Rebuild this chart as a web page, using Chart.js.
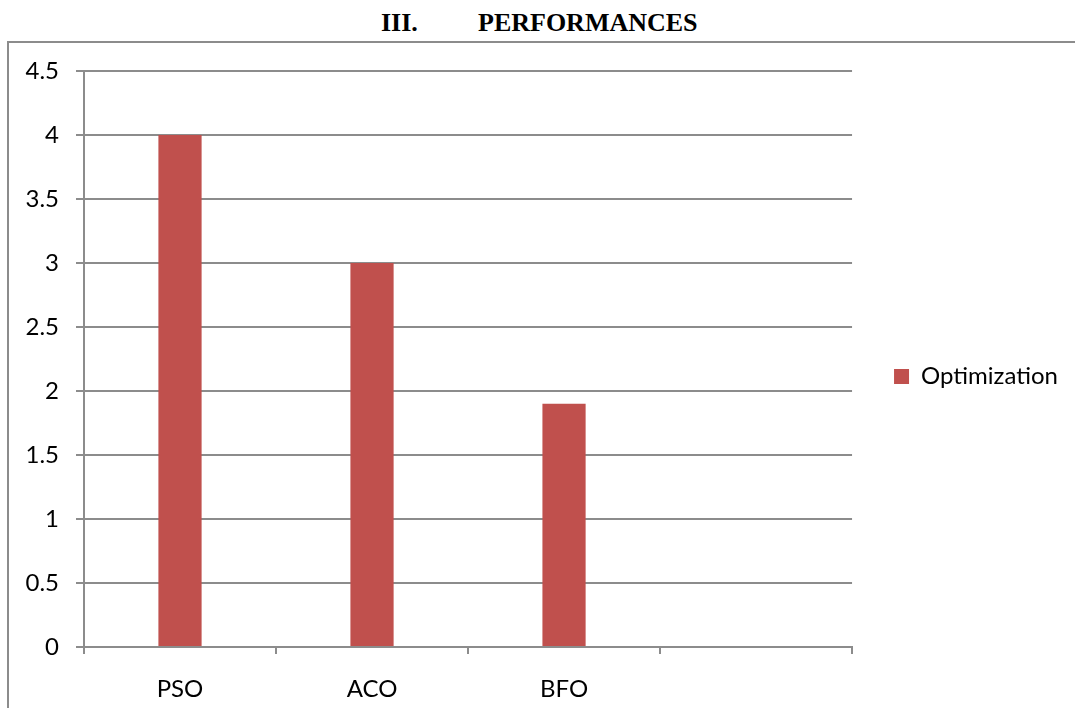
<!DOCTYPE html>
<html>
<head>
<meta charset="utf-8">
<script src="https://cdn.jsdelivr.net/npm/chart.js@4/dist/chart.umd.min.js"></script>
<style>
  html, body { margin: 0; padding: 0; background: #fff; }
  body { width: 1075px; height: 708px; position: relative; overflow: hidden; }
  .heading { position: absolute; top: 10px; font: bold 26px/26px "Liberation Serif", "Times New Roman", serif; color: #000; white-space: nowrap; }
  #frame { position: absolute; left: 7px; top: 41px; width: 1066px; height: 665px;
           border-top: 2px solid #8c8c8c; border-left: 2px solid #8c8c8c; }
  #chart { display: block; }
</style>
</head>
<body>
<span class="heading" style="left:381px">III.</span>
<span class="heading" style="left:478px">PERFORMANCES</span>
<div id="frame"><canvas id="chart" width="1066" height="665"></canvas></div>
<script>
// Algorithms compared, with an empty trailing slot on the axis
const categories = ['PSO', 'ACO', 'BFO', ''];
const seriesName = 'Optimization';
const optimizationValues = [4, 3, 1.9, null];
const yTickLabels = ['0', '0.5', '1', '1.5', '2', '2.5', '3', '3.5', '4', '4.5'];
const yMin = 0, yMax = 4.5, yStep = 0.5;

const axisGray = '#8c8c8c';
const textFont = { family: 'Lato, "Open Sans", sans-serif', size: 24 };

// Centre the legend on the full canvas height instead of the padded area
const legendFullHeight = {
  id: 'legendFullHeight',
  afterLayout(chart) {
    const lg = chart.legend;
    if (!lg) return;
    lg.top = 2;
    lg.bottom = chart.height;
    lg.height = lg.bottom - lg.top;
  }
};

new Chart(document.getElementById('chart'), {
  type: 'bar',
  data: {
    labels: categories,
    datasets: [{
      label: seriesName,
      data: optimizationValues,
      backgroundColor: '#C0504D',
      borderWidth: 0,
      categoryPercentage: 0.45,
      barPercentage: 0.5
    }]
  },
  plugins: [legendFullHeight],
  options: {
    responsive: false,
    animation: false,
    layout: { padding: { top: 28, right: 7, bottom: 0, left: 0 } },
    plugins: {
      title: { display: false },
      tooltip: { enabled: false },
      legend: {
        position: 'right',
        labels: {
          boxWidth: 15,
          boxHeight: 15,
          padding: 42,
          color: '#000',
          font: textFont
        }
      }
    },
    scales: {
      x: {
        grid: {
          display: true,
          offset: true,
          drawOnChartArea: false,
          drawTicks: true,
          tickLength: 7,
          color: axisGray,
          lineWidth: 2
        },
        border: { display: true, color: axisGray, width: 2 },
        ticks: { color: '#000', font: textFont, padding: 21 },
        afterFit: (scale) => { scale.height = 61; }
      },
      y: {
        min: yMin,
        max: yMax,
        grid: {
          color: axisGray,
          lineWidth: 2,
          tickLength: 8
        },
        border: { display: true, color: axisGray, width: 2 },
        ticks: {
          stepSize: yStep,
          color: '#000',
          font: textFont,
          padding: 17,
          callback: (value, index) => yTickLabels[index]
        },
        afterFit: (scale) => {
          scale.width = 75;
          scale.paddingTop = 0;
          scale.paddingBottom = 0;
        }
      }
    }
  }
});
</script>
</body>
</html>
